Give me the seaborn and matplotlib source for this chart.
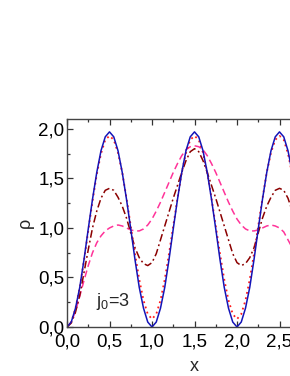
import numpy as np
import pandas as pd
import matplotlib
matplotlib.use("Agg")
import matplotlib.pyplot as plt
import seaborn as sns
from matplotlib.ticker import MultipleLocator, FuncFormatter

# -----------------------------
# Data
# -----------------------------
x = [round(0.05 * i, 2) for i in range(55)]

solid_blue = [
    0.00, 0.05, 0.19, 0.40, 0.68, 0.99, 1.29, 1.56, 1.78, 1.92, 1.97,
    1.92, 1.78, 1.56, 1.29, 0.99, 0.68, 0.40, 0.19, 0.05, 0.00,
    0.05, 0.19, 0.40, 0.68, 0.99, 1.29, 1.56, 1.78, 1.92, 1.97,
    1.92, 1.78, 1.56, 1.29, 0.99, 0.68, 0.40, 0.19, 0.05, 0.00,
    0.05, 0.19, 0.40, 0.68, 0.99, 1.29, 1.56, 1.78, 1.92, 1.97,
    1.92, 1.78, 1.56, 1.29,
]

dotted_red = [
    0.00, 0.05, 0.19, 0.40, 0.67, 0.97, 1.27, 1.54, 1.75, 1.89, 1.93,
    1.89, 1.76, 1.56, 1.30, 1.02, 0.74, 0.48, 0.27, 0.13, 0.08,
    0.13, 0.27, 0.48, 0.74, 1.02, 1.30, 1.56, 1.76, 1.89, 1.93,
    1.89, 1.76, 1.56, 1.30, 1.02, 0.74, 0.48, 0.27, 0.13, 0.08,
    0.13, 0.27, 0.48, 0.74, 1.02, 1.30, 1.56, 1.76, 1.89, 1.93,
    1.89, 1.75, 1.54, 1.27,
]

dashdot_darkred = [
    0.00, 0.04, 0.15, 0.32, 0.55, 0.78, 1.00, 1.17, 1.30, 1.38, 1.40,
    1.38, 1.31, 1.22, 1.10, 0.95, 0.80, 0.70, 0.64, 0.62, 0.65,
    0.74, 0.88, 1.02, 1.16, 1.30, 1.43, 1.56, 1.68, 1.77, 1.80,
    1.77, 1.68, 1.56, 1.43, 1.30, 1.16, 1.02, 0.88, 0.74, 0.65,
    0.62, 0.64, 0.70, 0.80, 0.95, 1.10, 1.22, 1.31, 1.38, 1.40,
    1.38, 1.30, 1.17, 1.00,
]

dashed_pink = [
    0.00, 0.05, 0.16, 0.31, 0.47, 0.62, 0.75, 0.85, 0.92, 0.97, 1.00,
    1.02, 1.03, 1.02, 1.00, 0.98, 0.97, 0.97, 0.99, 1.03, 1.09,
    1.17, 1.26, 1.36, 1.46, 1.56, 1.65, 1.73, 1.79, 1.82, 1.83,
    1.82, 1.79, 1.73, 1.65, 1.56, 1.46, 1.36, 1.26, 1.17, 1.09,
    1.03, 0.99, 0.97, 0.97, 0.98, 1.00, 1.02, 1.03, 1.02, 1.00,
    0.96, 0.88, 0.80, 0.70,
]

series = [
    (dashed_pink, "#ff3399", (0, (4.5, 2.5)), 1.1),
    (dashdot_darkred, "#8b0000", (0, (5, 2, 1.2, 2)), 1.1),
    (dotted_red, "#ff1a1a", (0, (1, 2)), 1.3),
    (solid_blue, "#1414b8", "-", 1.1),
]

# -----------------------------
# Style
# -----------------------------
sns.set_style("ticks")
plt.rcParams["font.family"] = ["Liberation Sans", "DejaVu Sans"]
plt.rcParams["mathtext.fontset"] = "custom"
plt.rcParams["mathtext.rm"] = "Liberation Sans"
plt.rcParams["mathtext.it"] = "Liberation Sans"

fig = plt.figure(figsize=(2.9, 3.76), dpi=100)
ax = fig.add_axes([67 / 290, 49 / 376, 255 / 290, 208 / 376])

for vals, color, ls, lw in series:
    sns.lineplot(x=x, y=vals, ax=ax, color=color, linestyle=ls,
                 linewidth=lw, estimator=None, sort=False)

ax.set_xlim(0, 3)
ax.set_ylim(0, 2.1)

comma = FuncFormatter(lambda v, p: f"{v:.1f}".replace(".", ","))
ax.xaxis.set_major_locator(MultipleLocator(0.5))
ax.xaxis.set_minor_locator(MultipleLocator(0.25))
ax.yaxis.set_major_locator(MultipleLocator(0.5))
ax.yaxis.set_minor_locator(MultipleLocator(0.25))
ax.xaxis.set_major_formatter(comma)
ax.yaxis.set_major_formatter(comma)

ax.tick_params(which="both", direction="in", top=True, right=True,
               colors="#333333", labelcolor="black", width=0.9)
ax.tick_params(which="major", length=4.5, labelsize=13.5, pad=2)
ax.tick_params(axis="x", which="major", pad=5)
ax.tick_params(which="minor", length=2.5)
for s in ax.spines.values():
    s.set_color("#444444")
    s.set_linewidth(1.0)

ax.set_xlabel("x", fontsize=13, labelpad=5)
ax.set_ylabel("ρ", fontsize=13, labelpad=3)

ax.text(0.54, 0.26, "j$_0$=3", fontsize=13, ha="center", va="center")

fig.savefig("out.png", dpi=100)
